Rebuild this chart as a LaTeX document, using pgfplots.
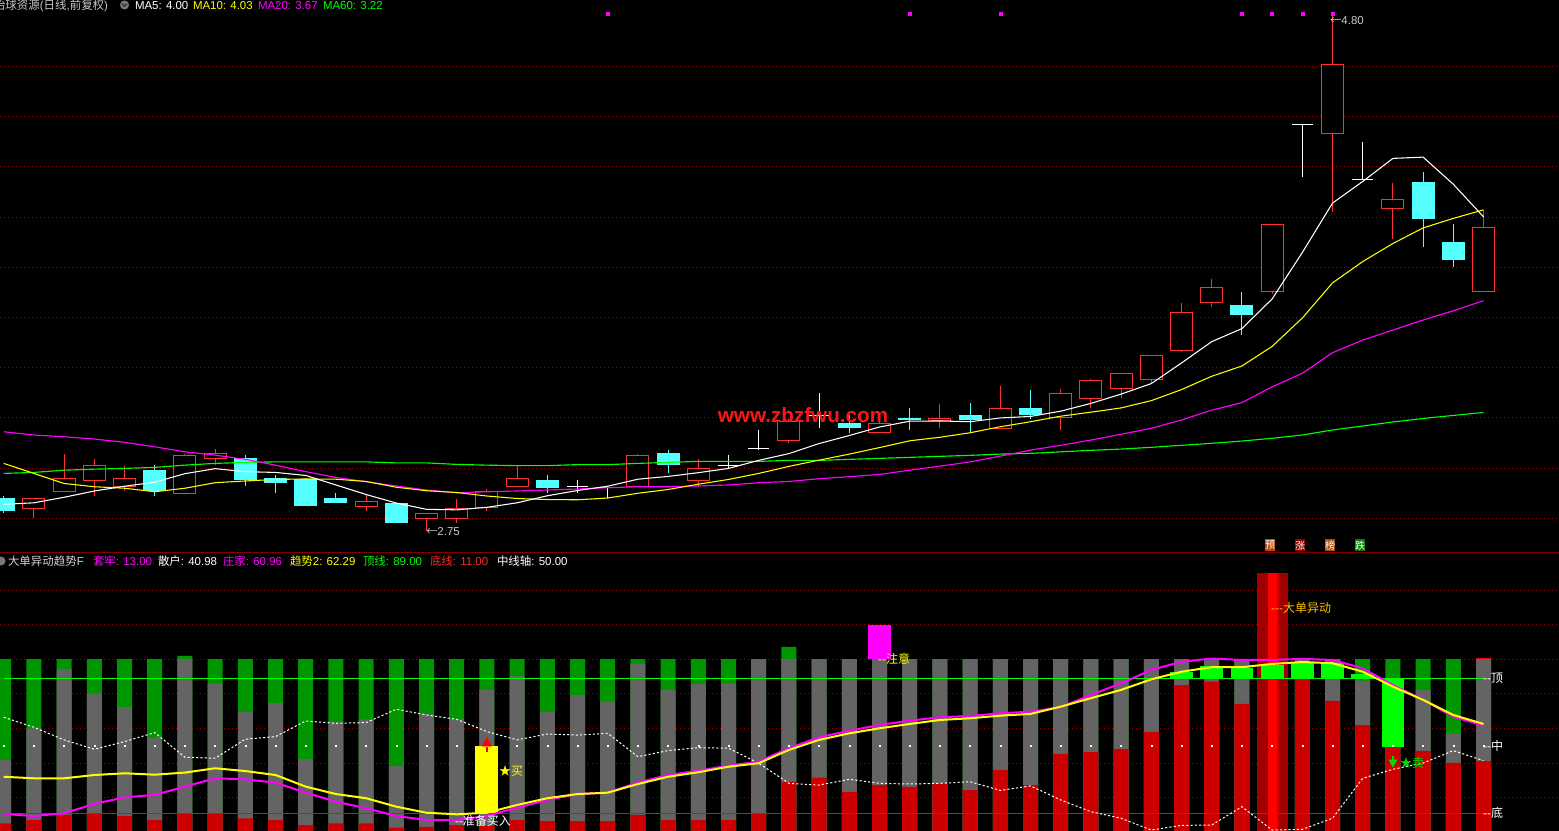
\documentclass[border=0pt]{standalone}
\usepackage{pgfplots}
\pgfplotsset{compat=1.18}
\usepackage{pgfplotstable}
\usepackage{fontspec}
\setmainfont{Liberation Sans}
\newfontfamily\cjk{Noto Sans CJK SC}
\newcommand\zh[1]{{\cjk #1}}

\definecolor{cup}{RGB}{255,50,50}
\definecolor{cdn}{RGB}{84,255,255}
\definecolor{gridred}{RGB}{150,0,0}
\definecolor{sepred}{RGB}{128,0,0}
\definecolor{ma10}{RGB}{255,255,0}
\definecolor{ma20}{RGB}{255,0,255}
\definecolor{ma60}{RGB}{0,255,0}
\definecolor{bgreen}{RGB}{0,150,0}
\definecolor{bgrey}{RGB}{100,100,100}
\definecolor{bred}{RGB}{204,0,0}
\definecolor{dkred}{RGB}{160,0,0}
\definecolor{midred}{RGB}{200,0,0}
\definecolor{gold}{RGB}{255,190,0}
\definecolor{lgrey}{RGB}{200,200,200}
\definecolor{circgrey}{RGB}{120,120,120}
\definecolor{wmred}{RGB}{255,20,20}
\definecolor{sellg}{RGB}{0,220,0}
\definecolor{lred}{RGB}{255,40,40}
\definecolor{btna}{RGB}{190,70,10}
\definecolor{btnb}{RGB}{140,0,0}
\definecolor{btnc}{RGB}{170,80,20}
\definecolor{btnd}{RGB}{0,130,0}

% up (red) candles
\pgfplotstableread{
i o h l c
1 2.838 2.880 2.800 2.880
2 2.906 3.056 2.906 2.959
3 2.950 3.036 2.889 3.011
4 2.926 3.008 2.910 2.959
6 2.898 3.057 2.898 3.052
7 3.037 3.076 3.012 3.059
12 2.846 2.897 2.830 2.868
14 2.798 2.820 2.750 2.820
15 2.798 2.877 2.782 2.840
16 2.840 2.917 2.830 2.909
17 2.926 3.008 2.926 2.959
21 2.926 3.056 2.926 3.051
23 2.950 3.036 2.926 2.999
26 3.109 3.195 3.101 3.189
29 3.139 3.209 3.139 3.179
31 3.189 3.255 3.161 3.198
33 3.156 3.327 3.156 3.238
35 3.198 3.315 3.152 3.298
36 3.276 3.355 3.241 3.351
37 3.316 3.380 3.280 3.378
38 3.350 3.449 3.334 3.449
39 3.468 3.657 3.464 3.621
40 3.659 3.753 3.643 3.720
42 3.700 3.971 3.692 3.971
44 4.330 4.800 4.021 4.609
46 4.031 4.136 3.913 4.071
49 3.700 4.028 3.700 3.959
}\upc

% down (cyan) candles
\pgfplotstableread{
i o h l c
0 2.881 2.889 2.822 2.830
5 2.992 3.012 2.889 2.909
8 3.039 3.052 2.930 2.953
9 2.959 2.972 2.902 2.942
10 2.955 2.959 2.850 2.850
11 2.881 2.901 2.862 2.862
13 2.861 2.861 2.782 2.782
18 2.953 2.972 2.902 2.922
22 3.060 3.072 2.982 3.013
28 3.181 3.211 3.141 3.161
30 3.198 3.238 3.152 3.193
32 3.211 3.259 3.141 3.192
34 3.239 3.311 3.194 3.211
41 3.650 3.702 3.531 3.611
47 4.140 4.180 3.882 3.994
48 3.901 3.973 3.802 3.830
}\dnc

% doji (white crosses)
\pgfplotstableread{
i c h l
19 2.927 2.953 2.902
20 2.922 2.922 2.880
24 3.011 3.052 2.995
25 3.079 3.152 3.072
27 3.211 3.299 3.161
43 4.370 4.370 4.161
45 4.151 4.299 4.151
}\doji

% moving averages
\pgfplotstableread{
i a5 a10 a20 a60
0 2.856 3.019 3.145 2.979
1 2.862 2.979 3.132 2.983
2 2.884 2.939 3.125 2.992
3 2.909 2.926 3.116 2.996
4 2.928 2.920 3.103 2.999
5 2.944 2.906 3.085 3.003
6 2.978 2.920 3.065 3.012
7 2.998 2.942 3.052 3.019
8 2.986 2.949 3.035 3.023
9 2.983 2.955 3.012 3.025
10 2.971 2.957 2.986 3.025
11 2.933 2.956 2.963 3.025
12 2.895 2.947 2.946 3.025
13 2.861 2.924 2.929 3.021
14 2.836 2.910 2.913 3.021
15 2.834 2.903 2.902 3.015
16 2.844 2.889 2.906 3.012
17 2.862 2.879 2.909 3.010
18 2.890 2.875 2.913 3.010
19 2.911 2.874 2.917 3.014
20 2.928 2.881 2.922 3.014
21 2.956 2.900 2.926 3.019
22 2.967 2.915 2.926 3.023
23 2.982 2.936 2.929 3.027
24 2.999 2.955 2.933 3.027
25 3.031 2.979 2.942 3.027
26 3.058 3.007 2.947 3.031
27 3.098 3.032 2.958 3.031
28 3.130 3.056 2.966 3.035
29 3.164 3.082 2.975 3.039
30 3.187 3.109 2.992 3.043
31 3.188 3.123 3.008 3.047
32 3.185 3.141 3.025 3.051
33 3.200 3.165 3.048 3.056
34 3.206 3.185 3.072 3.059
35 3.227 3.207 3.091 3.065
36 3.258 3.223 3.112 3.071
37 3.295 3.240 3.135 3.076
38 3.337 3.269 3.159 3.083
39 3.419 3.313 3.192 3.091
40 3.504 3.366 3.231 3.099
41 3.556 3.407 3.261 3.108
42 3.674 3.485 3.324 3.119
43 3.859 3.598 3.378 3.132
44 4.056 3.738 3.460 3.152
45 4.142 3.823 3.510 3.168
46 4.234 3.895 3.550 3.184
47 4.239 3.957 3.590 3.198
48 4.131 3.995 3.627 3.210
49 4.001 4.029 3.667 3.222
}\ma

% indicator panel: red top R, grey top G, green top T, yellow Y, magenta M, white W
\pgfplotstableread{
i R G T Y M W
0 5.2 41.8 100 32.1 10.6 66.5
1 7.1 60.1 100 31.2 9.4 60.7
2 10.0 94.2 100 31.2 11.0 53.4
3 11.0 80.3 100 33.1 16.4 48.0
4 9.4 72.3 100 34.1 20.2 52.4
5 7.1 54.7 100 33.3 21.6 57.6
6 11.0 100 101.9 34.5 26.4 43.4
7 11.0 86.1 100 37.0 31.2 42.8
8 8.1 69.7 100 35.4 30.6 53.8
9 7.1 74.6 100 33.1 28.7 55.3
10 4.2 42.4 100 26.4 22.9 64.3
11 5.2 63.9 100 22.1 17.7 63.0
12 5.2 65.3 100 19.7 13.9 63.4
13 2.7 38.3 100 14.8 9.4 71.1
14 3.2 68.4 100 11.3 7.1 67.8
15 4.2 65.5 100 10.4 7.1 65.3
16 4.0 82.3 100 11.3 9.5 58.2
17 7.1 90.3 100 15.8 14.2 53.4
18 6.5 69.7 100 19.7 18.7 56.8
19 6.5 79.4 100 22.1 22.1 56.2
20 6.5 75.5 100 22.9 22.9 57.2
21 10.0 97.3 100 27.9 28.7 43.7
22 7.1 82.3 100 32.1 33.1 47.2
23 7.1 85.7 100 34.7 35.6 48.9
24 7.1 86.1 100 37.9 38.5 48.6
25 11.0 100 100 39.9 40.8 39.9
26 29.2 100 107.2 47.6 48.6 28.3
27 31.6 100 100 53.4 54.9 27.3
28 23.3 100 100 57.2 58.7 30.6
29 27.3 100 100 60.1 62.0 28.3
30 26.2 100 100 62.6 64.5 27.9
31 28.3 100 100 64.9 66.5 28.3
32 24.4 100 100 65.9 67.2 29.2
33 36.0 100 100 67.4 68.8 24.2
34 27.3 100 100 68.4 69.7 26.8
35 45.3 100 100 72.6 72.3 18.7
36 46.4 100 100 77.5 79.4 11.9
37 48.1 100 100 82.3 86.1 8.1
38 58.0 100 100 88.4 93.8 1.3
39 85.1 100 100 92.8 98.6 4.0
40 87.1 100 100 95.4 100.4 4.2
41 74.2 100 100 95.4 99.6 14.8
42 88.4 100 100 97.3 99.6 1.3
43 88.4 100 100 98.4 100.2 1.7
44 75.9 100 100 97.7 99.6 8.1
45 62.0 87.6 100 92.8 94.8 31.2
46 49.5 89.1 100 84.2 85.1 36.4
47 47.0 82.3 100 76.5 76.5 40.0
48 40.1 57.2 100 67.8 66.8 47.2
49 41.2 100 100 62.6 61.6 41.4
}\bars

% bright green boxes
\pgfplotstableread{
i lo hi
39 89 92.6
40 89 96.1
41 89 95.2
42 89 96.5
43 89 98.4
44 89 97.9
45 89 91.5
46 49.5 89
}\gbox

\pgfplotsset{
  panel/.style={scale only axis, width=1169.25pt, xmin=-0.1225, xmax=51.5,
    axis line style={draw=none}, tick style={draw=none}, major tick length=0pt,
    xtick=\empty, yticklabels={}, ymajorgrids,
    major grid style={gridred, line width=0.75pt, dash pattern=on 0.75pt off 2.25pt},
    anchor=south west},
  nomark/.style={only marks, mark=*, mark size=0pt, mark options={draw=none, fill=none, opacity=0}},
  ebar/.style 2 args={nomark, error bars/.cd, y dir=plus, y explicit,
    error mark=none, error bar style={#1, line width=#2}},
  vbar/.style 2 args={ybar, bar width=#2, bar shift=0pt, fill=#1, draw=none},
}

\begin{document}
\begin{tikzpicture}
\useasboundingbox (0,0) rectangle (1169.25pt,623.25pt);
\clip (0,0) rectangle (1169.25pt,623.25pt);
\fill[black] (0,0) rectangle (1169.25pt,623.25pt);

% ---------------- price panel ----------------
\begin{axis}[panel, at={(0pt,210pt)}, height=413.25pt, ymin=2.670, ymax=4.865,
  ytick={2.8,3.0,3.2,3.4,3.6,3.8,4.0,4.2,4.4,4.6}]
% wicks
\addplot[ebar={cup}{0.75pt}] table[x=i, y=l, y error plus expr=\thisrow{h}-\thisrow{l}]{\upc};
\addplot[ebar={cdn}{0.75pt}] table[x=i, y=l, y error plus expr=\thisrow{h}-\thisrow{l}]{\dnc};
\addplot[ebar={white}{0.75pt}] table[x=i, y=l, y error plus expr=\thisrow{h}-\thisrow{l}]{\doji};
% bodies
\addplot[ebar={cup}{17.25pt}] table[x=i, y=o, y error plus expr=\thisrow{c}-\thisrow{o}]{\upc};
\addplot[ebar={black}{15.75pt}] table[x=i, y expr=\thisrow{o}+0.004, y error plus expr=\thisrow{c}-\thisrow{o}-0.008]{\upc};
\addplot[ebar={cdn}{17.25pt}] table[x=i, y=c, y error plus expr=\thisrow{o}-\thisrow{c}]{\dnc};
\addplot[nomark, error bars/.cd, x dir=both, x fixed=0.355, error mark=none,
  error bar style={white, line width=0.75pt}] table[x=i, y=c]{\doji};
% moving averages
\addplot[ma60, line width=0.85pt] table[x=i, y=a60]{\ma};
\addplot[ma20, line width=0.85pt] table[x=i, y=a20]{\ma};
\addplot[ma10, line width=0.8pt] table[x=i, y=a10]{\ma};
\addplot[white, line width=0.8pt] table[x=i, y=a5]{\ma};
% top markers
\addplot[only marks, mark=square*, mark size=1.1pt, ma20] coordinates
  {(20,4.809) (30,4.809) (33,4.809) (41,4.809) (42,4.809) (43,4.809) (44,4.809)};
\end{axis}

% ---------------- indicator panel ----------------
\begin{axis}[panel, at={(0pt,0pt)}, height=208.5pt, ymin=0.75, ymax=161.4,
  ytick={20,40,60,80,100,120,140}]
\addplot[vbar={red}{11.25pt}] coordinates {(49,100.8)};
\addplot[vbar={bgreen}{11.25pt}] table[x=i, y=T]{\bars};
\addplot[vbar={bgrey}{11.25pt}] table[x=i, y=G]{\bars};
\addplot[vbar={bred}{11.25pt}] table[x=i, y=R]{\bars};
% big-order column
\addplot[vbar={dkred}{23.25pt}] coordinates {(42,150)};
\addplot[ybar, bar width=2.7pt, bar shift=4.1pt, fill=midred, draw=none] coordinates {(42,150)};
\addplot[ybar, bar width=6.75pt, bar shift=0.4pt, fill=red, draw=none] coordinates {(42,150)};
% signal boxes
\addplot[ebar={ma20}{17.25pt}] coordinates {(29,100) +- (0,19.9)};
\addplot[ebar={ma10}{17.25pt}] coordinates {(16,11) +- (0,39)};
\addplot[ebar={ma60}{17.1pt}] table[x=i, y=lo, y error plus expr=\thisrow{hi}-\thisrow{lo}]{\gbox};
% reference lines
\addplot[ma60, line width=1pt] coordinates {(0,89) (49,89)};
\addplot[red, line width=1pt] coordinates {(0,11) (49,11)};
% lines
\addplot[white, line width=0.75pt, dash pattern=on 1.6pt off 1.6pt] table[x=i, y=W]{\bars};
\addplot[only marks, mark=square*, mark size=0.4pt, white] table[x=i, y expr=50]{\bars};
\addplot[ma20, line width=1.5pt] table[x=i, y=M]{\bars};
\addplot[ma10, line width=1.5pt] table[x=i, y=Y]{\bars};
% arrows
\addplot[red, line width=1.5pt] coordinates {(16,46.5) (16,51)};
\addplot[only marks, mark=triangle*, mark size=4pt, red] coordinates {(16,51.4)};
\addplot[sellg, line width=1.5pt] coordinates {(46,44) (46,41)};
\addplot[only marks, mark=triangle*, mark size=3.5pt, mark options={rotate=180}, sellg] coordinates {(46,40.5)};
\end{axis}

% ---------------- texts (pixel coordinates) ----------------
\begin{scope}[x=0.75pt, y=-0.75pt, shift={(0,623.25pt)},
  every node/.style={inner sep=0pt, outer sep=0pt, font=\fontsize{8.6pt}{10pt}\selectfont}]
\draw[sepred, line width=0.8pt] (0,552.7) -- (1559,552.7);
% price header
\node[anchor=base west, text=lgrey] at (-6,9.5) {\zh{怡球资源}(\zh{日线},\zh{前复权})};
\fill[circgrey] (124.5,5) circle (3.4pt);
\draw[black!80, line width=0.9pt] (122,3.8) -- (124.5,6.3) -- (127,3.8);
\node[anchor=base west, text=white] at (135,9.5) {MA5: 4.00};
\node[anchor=base west, text=ma10] at (193,9.5) {MA10: 4.03};
\node[anchor=base west, text=ma20] at (258,9.5) {MA20: 3.67};
\node[anchor=base west, text=ma60] at (323,9.5) {MA60: 3.22};
% price marks
\node[anchor=west, text=lgrey] at (426,532) {\zh{←}2.75};
\node[anchor=west, text=lgrey] at (1330,21) {\zh{←}4.80};
% watermark
\node[text=wmred, font=\fontsize{15.5pt}{16pt}\selectfont\bfseries] at (803,415) {www.zbzfwu.com};
% buttons
\node[fill=btna, text=white, minimum width=7.5pt, minimum height=9pt, font=\fontsize{7.5pt}{8pt}\selectfont\cjk] at (1270,545.3) {预};
\node[fill=btnb, text=white, minimum width=7.5pt, minimum height=9pt, font=\fontsize{7.5pt}{8pt}\selectfont\cjk] at (1300,545.3) {涨};
\node[fill=btnc, text=white, minimum width=7.5pt, minimum height=9pt, font=\fontsize{7.5pt}{8pt}\selectfont\cjk] at (1330,545.3) {榜};
\node[fill=btnd, text=white, minimum width=7.5pt, minimum height=9pt, font=\fontsize{7.5pt}{8pt}\selectfont\cjk] at (1360,545.3) {跌};
% indicator header
\fill[circgrey] (1,561) circle (3.4pt);
\node[anchor=base west, text=lgrey!80!white] at (8,565.5) {\zh{大单异动趋势}F};
\node[anchor=base west, text=ma20] at (93,565.5) {\zh{套牢}: 13.00};
\node[anchor=base west, text=white] at (158,565.5) {\zh{散户}: 40.98};
\node[anchor=base west, text=ma20] at (223,565.5) {\zh{庄家}: 60.96};
\node[anchor=base west, text=ma10] at (290,565.5) {\zh{趋势}2: 62.29};
\node[anchor=base west, text=ma60] at (363,565.5) {\zh{顶线}: 89.00};
\node[anchor=base west, text=lred] at (430,565.5) {\zh{底线}: 11.00};
\node[anchor=base west, text=white] at (497,565.5) {\zh{中线轴}: 50.00};
% indicator annotations
\node[anchor=west, text=white, font=\fontsize{9pt}{10pt}\selectfont] at (455,821) {{-}{-}\zh{准备买入}};
\node[anchor=west, text=ma10, font=\fontsize{9pt}{10pt}\selectfont] at (499,771) {\zh{★买}};
\node[anchor=west, text=ma10, font=\fontsize{9pt}{10pt}\selectfont] at (878,659) {{-}{-}\zh{注意}};
\node[anchor=west, text=gold, font=\fontsize{9pt}{10pt}\selectfont] at (1271,608) {{-}{-}{-}\zh{大单异动}};
\node[anchor=west, text=sellg, font=\fontsize{9pt}{10pt}\selectfont] at (1400,763) {\zh{★卖}};
\node[anchor=west, text=white, font=\fontsize{9pt}{10pt}\selectfont] at (1483,678) {{-}{-}\zh{顶}};
\node[anchor=west, text=white, font=\fontsize{9pt}{10pt}\selectfont] at (1483,746) {{-}{-}\zh{中}};
\node[anchor=west, text=white, font=\fontsize{9pt}{10pt}\selectfont] at (1483,813) {{-}{-}\zh{底}};
\end{scope}
\end{tikzpicture}
\end{document}
